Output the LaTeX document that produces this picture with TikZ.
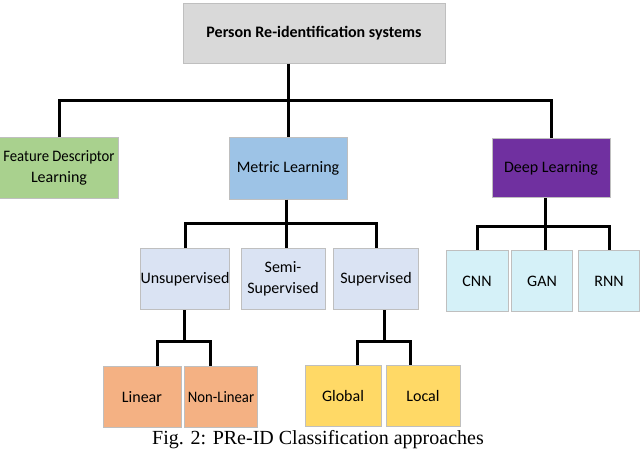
\documentclass[tikz,border=0pt]{standalone}
\usepackage{fontspec}
\setmainfont{Carlito}
\newfontfamily\capfont{Liberation Serif}
\definecolor{cgray}{HTML}{D9D9D9}
\definecolor{cgreen}{HTML}{A9D18E}
\definecolor{cblue}{HTML}{9DC3E6}
\definecolor{cpurple}{HTML}{7030A0}
\definecolor{clav}{HTML}{DAE3F3}
\definecolor{ccyan}{HTML}{D5F1F8}
\definecolor{corange}{HTML}{F4B183}
\definecolor{cyellow}{HTML}{FFD966}
\begin{document}
\begin{tikzpicture}[x=1pt,y=-1pt,
  box/.style={draw=black!25,line width=1pt,inner sep=0pt,align=center,font=\fontsize{16}{21}\selectfont},
  conn/.style={line width=3pt}]
\clip (0,0) rectangle (640,451);
\useasboundingbox (0,0) rectangle (640,451);
\newcommand\bx[7]{\node[box,fill=#6,minimum width=#4pt,minimum height=#5pt] (#1) at (#2,#3) {#7};}
\bx{top}{314}{33}{262}{60}{cgray}{\textbf{Person Re-identification systems}}
\bx{fd}{59}{168}{119}{61}{cgreen}{\scalebox{0.92}[1]{Feature Descriptor}\\Learning}
\bx{ml}{288}{168}{118}{62}{cblue}{Metric Learning}
\bx{dl}{551}{168}{118}{59}{cpurple}{Deep Learning}
\bx{un}{185}{279}{89}{61}{clav}{Unsupervised}
\bx{se}{283}{279}{84}{61}{clav}{Semi-\\Supervised}
\bx{su}{376}{279}{85}{61}{clav}{Supervised}
\bx{cnn}{477}{281}{62}{61}{ccyan}{CNN}
\bx{gan}{542}{281}{61}{61}{ccyan}{GAN}
\bx{rnn}{609}{281}{61}{61}{ccyan}{RNN}
\bx{lin}{142}{397}{78}{61}{corange}{Linear}
\bx{nl}{221}{397}{73}{61}{corange}{\scalebox{0.92}[1]{Non-Linear}}
\bx{gl}{343}{396}{76}{61}{cyellow}{Global}
\bx{lo}{423}{396}{74}{61}{cyellow}{Local}
\coordinate (b1) at (288,100);
\draw[conn] (top.south -| b1) -- (b1);
\draw[conn] (fd.north) |- (b1) -| (dl.north);
\draw[conn] (b1) -- (ml.north);
\coordinate (b2) at (286,223);
\draw[conn] (ml.south -| b2) -- (b2);
\draw[conn] (un.north) |- (b2) -| (su.north);
\draw[conn] (b2) -- (se.north -| b2);
\coordinate (b3) at (545,226);
\draw[conn] (dl.south -| b3) -- (b3);
\draw[conn] (cnn.north) |- (b3) -| (rnn.north);
\draw[conn] (b3) -- (gan.north -| b3);
\coordinate (b4) at (184,341);
\draw[conn] (un.south -| b4) -- (b4);
\draw[conn] (lin.north -| 157,0) |- (b4) -| (nl.north -| 210,0);
\coordinate (b5) at (384,341);
\draw[conn] (su.south -| b5) -- (b5);
\draw[conn] (gl.north -| 357,0) |- (b5) -| (lo.north -| 410,0);
\node[font=\capfont\fontsize{20}{23}\selectfont,anchor=north,inner sep=1pt] (cap) at (318,429) {Fig. 2: PRe-ID Classification approaches};
\end{tikzpicture}
\end{document}
